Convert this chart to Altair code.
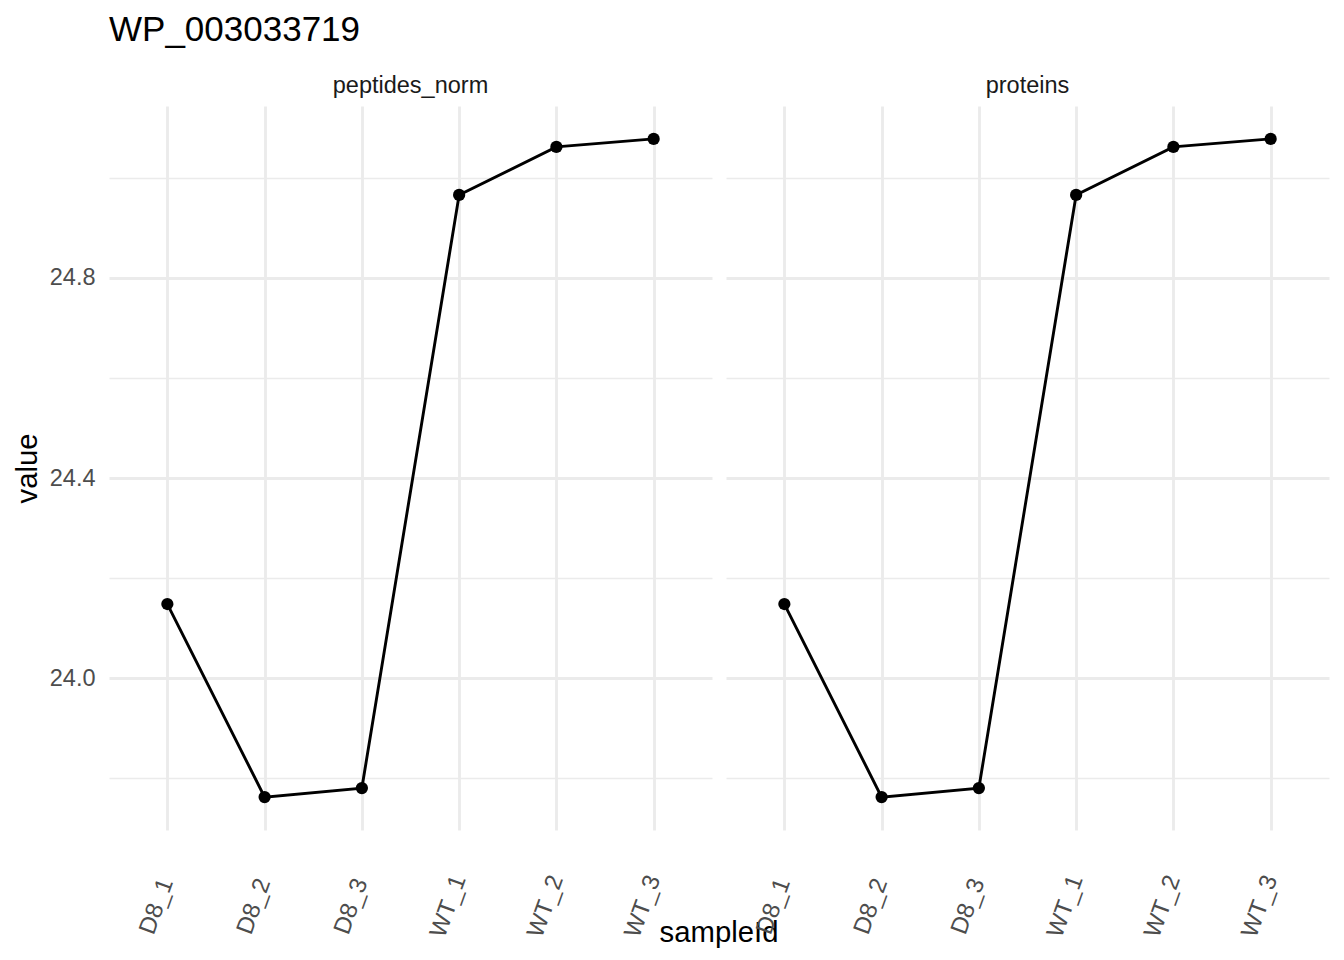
import altair as alt
import pandas as pd

title_text = "WP_003033719"
samples = ["D8_1", "D8_2", "D8_3", "WT_1", "WT_2", "WT_3"]
panels = ["peptides_norm", "proteins"]
peptides_norm_values = [24.148, 23.762, 23.780, 24.966, 25.062, 25.078]
proteins_values = [24.148, 23.762, 23.780, 24.966, 25.062, 25.078]
y_grid_values = [23.8, 24.0, 24.2, 24.4, 24.6, 24.8, 25.0]

rows = []
for p, vals in zip(panels, [peptides_norm_values, proteins_values]):
    for s, v in zip(samples, vals):
        rows.append({"panel": p, "sampleId": s, "value": v})
df = pd.DataFrame(rows)

all_vals = peptides_norm_values + proteins_values
lo, hi = min(all_vals), max(all_vals)
pad = (hi - lo) * 0.05
y_domain = [lo - pad, hi + pad]

FONT = "Liberation Sans"
GRID = "#ebebeb"

x_enc = alt.X(
    "sampleId:N",
    sort=samples,
    scale=alt.Scale(type="point", padding=0.6),
    axis=alt.Axis(
        title=None,
        labelAngle=-70,
        labelAlign="center",
        labelBaseline="middle",
        labelOffset=-11,
        labelPadding=76,
        labelFontSize=24,
        labelColor="#4d4d4d",
        labelFont=FONT,
        ticks=False,
        domain=False,
        grid=True,
        gridColor=GRID,
        gridWidth=2.85,
    ),
)
y_enc = alt.Y(
    "value:Q",
    scale=alt.Scale(domain=y_domain, nice=False, zero=False),
    axis=alt.Axis(
        title="value",
        titleFontSize=29.3,
        titleFontWeight="normal",
        titleColor="black",
        titleFont=FONT,
        titlePadding=7,
        values=y_grid_values,
        labelExpr="round(datum.value*5) % 2 == 0 ? format(datum.value, '.1f') : ''",
        labelFontSize=23.5,
        labelColor="#4d4d4d",
        labelFont=FONT,
        labelPadding=14,
        ticks=False,
        domain=False,
        grid=True,
        gridColor=GRID,
        gridWidth={"condition": {"test": "round(datum.value*5) % 2 == 0", "value": 2.85}, "value": 1.42},
    ),
)

line = alt.Chart().mark_line(color="black", strokeWidth=2.9).encode(x=x_enc, y=y_enc)
points = alt.Chart().mark_point(filled=True, color="black", size=150, opacity=1).encode(x=x_enc, y=y_enc)

chart = (
    alt.layer(line, points, data=df)
    .properties(width=603, height=724)
    .facet(
        column=alt.Column(
            "panel:N",
            sort=panels,
            title="sampleId",
            header=alt.Header(
                labelOrient="top",
                labelFontSize=23.5,
                labelColor="#1a1a1a",
                labelFont=FONT,
                labelPadding=9,
                titleOrient="bottom",
                titleFontSize=29.3,
                titleFontWeight="normal",
                titleColor="black",
                titleFont=FONT,
                titlePadding=-32,
            ),
        ),
        spacing=14,
    )
    .properties(
        title=alt.TitleParams(
            text=title_text,
            anchor="start",
            frame="group",
            fontSize=35,
            fontWeight="normal",
            color="black",
            font=FONT,
            offset=26,
        ),
        padding={"left": 5, "top": 4, "right": 5, "bottom": 5},
    )
    .configure_view(stroke=None)
)

chart.save("out.html", embed_options={"renderer": "svg", "actions": False})
